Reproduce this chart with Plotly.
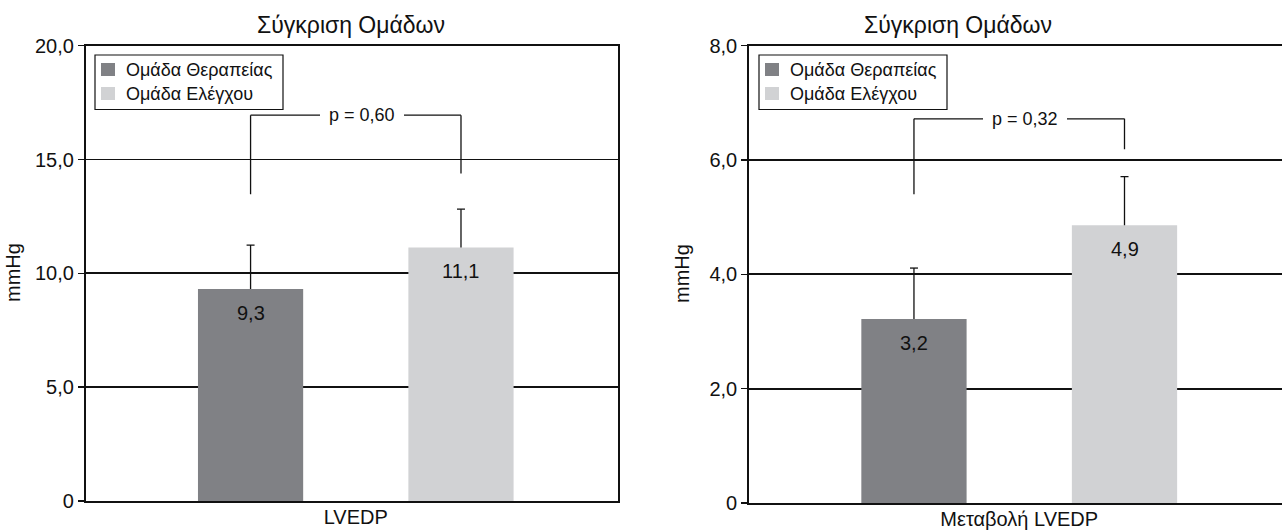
import plotly.graph_objects as go

# ---------------- data ----------------
groups = ["Ομάδα Θεραπείας", "Ομάδα Ελέγχου"]
colors = ["#808185", "#d1d2d4"]

left_category = ["LVEDP"]
left_means = [9.31, 11.14]
left_err = [1.93, 1.68]
left_bracket_bottoms = [13.47, 14.39]
left_bracket_top = 16.95
left_p = "p = 0,60"
left_ticks = [0, 5, 10, 15, 20]

right_category = ["Μεταβολή LVEDP"]
right_means = [3.22, 4.86]
right_err = [0.89, 0.85]
right_bracket_bottoms = [5.40, 6.19]
right_bracket_top = 6.72
right_p = "p = 0,32"
right_ticks = [0, 2, 4, 6, 8]

title_text = "Σύγκριση Ομάδων"
y_title = "mmHg"

# ---------------- styling ----------------
FONT = "Liberation Sans, Arial, Helvetica, sans-serif"
W, H = 1282, 530
BARGAP = 0.21
BARGROUPGAP = 0.5
XRANGE = [-0.507, 0.493]
CAP_HALF = 0.0075  # half width of error caps in category units
slot = (1 - BARGAP) / 2
offsets = [-slot / 2, slot / 2]


def fmt(v):
    return "0" if v == 0 else f"{v:.1f}".replace(".", ",")


def px(x):
    return x / W


def py(y):
    return 1 - y / H


fig = go.Figure()

panels = [
    dict(cat=left_category, means=left_means, err=left_err, bb=left_bracket_bottoms,
         bt=left_bracket_top, p=left_p, ticks=left_ticks, xa="x", ya="y", legend_left=95),
    dict(cat=right_category, means=right_means, err=right_err, bb=right_bracket_bottoms,
         bt=right_bracket_top, p=right_p, ticks=right_ticks, xa="x2", ya="y2", legend_left=759),
]

LINE = dict(color="#111", width=1.3)
annotations = []
shapes = []
for pnl in panels:
    for i, g in enumerate(groups):
        fig.add_trace(go.Bar(
            x=pnl["cat"], y=[pnl["means"][i]], name=g,
            marker=dict(color=colors[i], line=dict(width=0)),
            error_y=dict(type="data", symmetric=False, array=[pnl["err"][i]], arrayminus=[0],
                         color="#111", thickness=1.3, width=0),
            xaxis=pnl["xa"], yaxis=pnl["ya"], showlegend=False,
            hoverinfo="skip",
        ))
        top = pnl["means"][i] + pnl["err"][i]
        # error bar cap (upper only)
        shapes.append(dict(type="line", xref=pnl["xa"], yref=pnl["ya"],
                           x0=offsets[i] - CAP_HALF, x1=offsets[i] + CAP_HALF, y0=top, y1=top,
                           line=LINE))
        # value labels inside bars
        annotations.append(dict(
            x=offsets[i], y=pnl["means"][i], xref=pnl["xa"], yref=pnl["ya"],
            text=fmt(pnl["means"][i]), showarrow=False, yanchor="middle", yshift=-24,
            font=dict(family=FONT, size=20, color="#111"),
        ))
        # bracket verticals
        shapes.append(dict(type="line", xref=pnl["xa"], yref=pnl["ya"],
                           x0=offsets[i], x1=offsets[i], y0=pnl["bb"][i], y1=pnl["bt"],
                           line=LINE))
    # bracket horizontal
    shapes.append(dict(type="line", xref=pnl["xa"], yref=pnl["ya"],
                       x0=offsets[0], x1=offsets[1], y0=pnl["bt"], y1=pnl["bt"], line=LINE))
    annotations.append(dict(
        x=0, y=pnl["bt"], xref=pnl["xa"], yref=pnl["ya"], text=pnl["p"], showarrow=False,
        xshift=6, yanchor="middle", bgcolor="white", borderpad=9, borderwidth=0,
        font=dict(family=FONT, size=18, color="#111"),
    ))

    # legend box (drawn by hand to match the compact original legend)
    L = pnl["legend_left"]
    shapes.append(dict(type="rect", xref="paper", yref="paper",
                       x0=px(L), x1=px(L + 188), y0=py(109.5), y1=py(55),
                       line=dict(color="#111", width=1.2), fillcolor="white", layer="above"))
    for i, g in enumerate(groups):
        cy = 69.5 + 24 * i
        shapes.append(dict(type="rect", xref="paper", yref="paper",
                           x0=px(L + 6), x1=px(L + 20), y0=py(cy + 6.5), y1=py(cy - 6.5),
                           line=dict(width=0), fillcolor=colors[i], layer="above"))
        annotations.append(dict(x=px(L + 29), y=py(cy), xref="paper", yref="paper", text=g,
                                showarrow=False, xanchor="left", yanchor="middle",
                                font=dict(family=FONT, size=18, color="#111")))

# titles and y-axis titles
annotations += [
    dict(x=px(351), y=py(25), xref="paper", yref="paper", text=title_text, showarrow=False,
         xanchor="center", yanchor="middle", font=dict(family=FONT, size=23, color="#111")),
    dict(x=px(958), y=py(25), xref="paper", yref="paper", text=title_text, showarrow=False,
         xanchor="center", yanchor="middle", font=dict(family=FONT, size=23, color="#111")),
    dict(x=px(13), y=py(273), xref="paper", yref="paper", text=y_title, showarrow=False,
         textangle=-90, xanchor="center", yanchor="middle", font=dict(family=FONT, size=20, color="#111")),
    dict(x=px(682), y=py(274), xref="paper", yref="paper", text=y_title, showarrow=False,
         textangle=-90, xanchor="center", yanchor="middle", font=dict(family=FONT, size=20, color="#111")),
]

axis_common = dict(showline=True, linecolor="#111", linewidth=1.8, automargin=False)
xcommon = dict(type="category", ticks="", showgrid=False, range=XRANGE, ticklabelstandoff=-3,
               tickfont=dict(family=FONT, size=20, color="#111"), fixedrange=True, **axis_common)
ycommon = dict(ticks="outside", ticklen=6, tickwidth=1.4, tickcolor="#111", showgrid=True,
               gridcolor="#111", gridwidth=1.8, zeroline=False,
               tickfont=dict(family=FONT, size=20, color="#111"), fixedrange=True, **axis_common)

fig.update_layout(
    width=W, height=H,
    margin=dict(l=0, r=0, t=0, b=0, pad=0, autoexpand=False),
    paper_bgcolor="white", plot_bgcolor="white",
    barmode="group", bargap=BARGAP, bargroupgap=BARGROUPGAP,
    font=dict(family=FONT, color="#111"),
    xaxis=dict(domain=[px(85.7), px(618.4)], anchor="y", mirror=True, **xcommon),
    yaxis=dict(domain=[py(501), py(45.7)], anchor="x", range=[0, 20], mirror=True,
               tickvals=left_ticks, ticktext=[fmt(v) for v in left_ticks], **ycommon),
    xaxis2=dict(domain=[px(749), 1.0], anchor="y2", mirror=True, **xcommon),
    yaxis2=dict(domain=[py(503), py(45.7)], anchor="x2", range=[0, 8], mirror=False,
                tickvals=right_ticks, ticktext=[fmt(v) for v in right_ticks], **ycommon),
    annotations=annotations,
    shapes=shapes,
    showlegend=False,
)

fig.write_html(
    "out.html",
    config={"displayModeBar": False, "staticPlot": True},
    post_script="document.body.style.margin='0';document.body.style.overflow='hidden';",
)
